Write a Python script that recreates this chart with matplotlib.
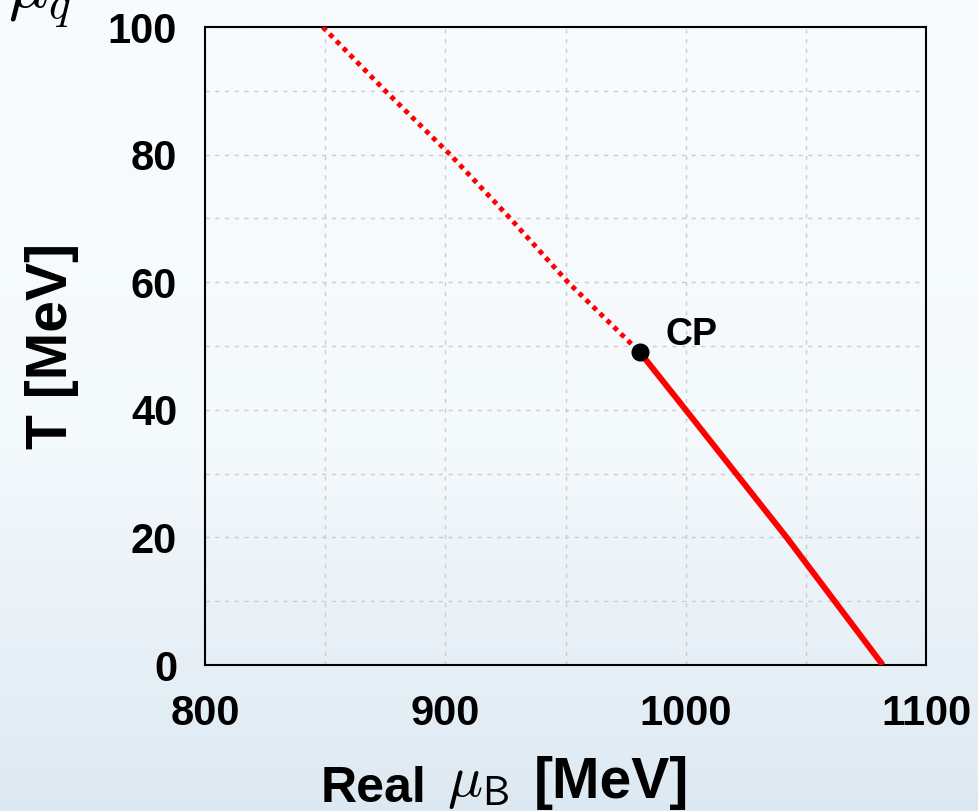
#!/usr/bin/env python3
import numpy as np
import matplotlib
matplotlib.use("Agg")
import matplotlib.pyplot as plt
from matplotlib.colors import LinearSegmentedColormap
from matplotlib.ticker import MultipleLocator

# === data ===
mu_crossover = [849, 875, 902, 927, 951, 981]      # MeV, dotted part
T_crossover  = [100, 90, 80, 70, 60, 49]           # MeV
mu_first     = [981, 1000, 1021, 1042, 1062, 1082]  # MeV, first-order line
T_first      = [49, 40, 30, 20, 10, 0]              # MeV
cp_mu, cp_T  = 981, 49

x_ticks = [800, 900, 1000, 1100]
y_ticks = [0, 20, 40, 60, 80, 100]

plt.rcParams['font.family'] = ['Liberation Sans', 'DejaVu Sans']
plt.rcParams['font.weight'] = 'bold'
plt.rcParams['mathtext.fontset'] = 'cm'

fig = plt.figure(figsize=(9.79, 8.11), dpi=100)

# --- slide-like background gradient ---
bg = fig.add_axes([0, 0, 1, 1], zorder=-1)
cmap = LinearSegmentedColormap.from_list(
    "bg", [(0.0, "#f9fcfe"), (0.55, "#f4f9fc"), (1.0, "#dde9f2")])
grad = np.linspace(0, 1, 256).reshape(-1, 1)
bg.imshow(grad, aspect='auto', cmap=cmap, extent=[0, 1, 0, 1], origin='upper')
bg.set_axis_off()

ax = fig.add_axes([0.2094, 0.180, 0.7365, 0.7867])
ax.set_facecolor('none')

# --- phase boundary ---
ax.plot(mu_crossover, T_crossover, color='red', lw=3.5,
        linestyle=(0, (1.0, 1.0)), zorder=3)
ax.plot(mu_first, T_first, color='red', lw=4.3, solid_capstyle='butt', zorder=3)
ax.plot([cp_mu], [cp_T], 'o', color='black', ms=12, zorder=4)
ax.annotate("CP", xy=(cp_mu, cp_T), xytext=(18, 5), textcoords='offset points',
            fontsize=27, fontweight='bold', va='baseline', ha='left')

# --- axes ---
ax.set_xlim(800, 1100)
ax.set_ylim(0, 100)
ax.set_xticks(x_ticks)
ax.set_yticks(y_ticks)
ax.xaxis.set_minor_locator(MultipleLocator(50))
ax.yaxis.set_minor_locator(MultipleLocator(10))
ax.grid(True, which='both', color='#cccccc', lw=1.0, linestyle=(0, (3, 4)))
ax.set_axisbelow(True)
ax.tick_params(which='both', length=0, labelsize=30)
ax.tick_params(axis='x', pad=21)
ax.tick_params(axis='y', pad=20)
for lab in ax.get_xticklabels() + ax.get_yticklabels():
    lab.set_fontweight('bold')
for s in ax.spines.values():
    s.set_linewidth(1.5)

ax.set_ylabel("T [MeV]", fontsize=41, fontweight='bold')
ax.yaxis.set_label_coords(-0.175, 0.5)

# x label built from pieces (mixed sizes as on the slide)
fig.text(0.327, 0.011, "Real", fontsize=36, fontweight='bold',
         ha='left', va='baseline')
fig.text(0.4566, 0.019, r"$\mu_\mathsf{B}$", fontsize=42,
         ha='left', va='baseline')
fig.text(0.5455, 0.016, "[MeV]", fontsize=41, fontweight='bold',
         ha='left', va='baseline')

# cut-off slide text at the top-left corner
fig.text(0.008, 0.991, r"$\mu_q$", fontsize=48, va='baseline', ha='left')

fig.savefig("out.png", dpi=100)
